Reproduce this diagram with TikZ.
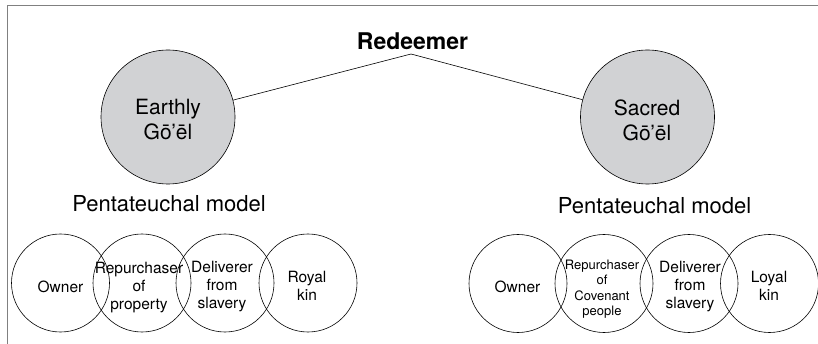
\documentclass[tikz,border=0pt]{standalone}
\usepackage{fontspec}
\setmainfont{TeX Gyre Heros}
\usepackage{tikz}
\definecolor{goelgray}{RGB}{209,210,212}

\begin{document}
\begin{tikzpicture}
[every node/.style={inner sep=0pt},
 big/.style={circle, minimum size=134pt, fill=goelgray, line width=0.6pt, draw=black},
 small/.style={circle, minimum size=98pt, line width=0.6pt, draw=black},
 lab/.style={align=center, font=\fontsize{15.5}{18}\selectfont},
 bigtext/.style={align=center, font=\fontsize{21}{25}\selectfont},
 model/.style={anchor=base, font=\fontsize{22}{24}\selectfont}]
\useasboundingbox (0pt, 0pt) rectangle (818pt, -344pt);
\draw [line width=0.9pt, color=black!50] (7pt, -344pt) -- (7pt, -5pt) -- (818pt, -5pt);
\node (red) [anchor=base, font=\bfseries\fontsize{23}{25}\selectfont] at (412.5pt, -50pt) {Redeemer};
\coordinate (apex) at (411pt, -54pt);
\node (earth) [big] at (168pt, -117pt) {};
\node (sacred) [big] at (647.5pt, -117pt) {};
\draw [line width=0.6pt, color=black] (earth) to (apex);
\draw [line width=0.6pt, color=black] (apex) to (sacred);
\node (earthtext) [bigtext] at (168pt, -120pt) {Earthly\\Gō’ēl};
\node (sacredtext) [bigtext] at (647pt, -120pt) {Sacred\\Gō’ēl};
\node (model1) [model] at (169pt, -212pt) {Pentateuchal model};
\node (model2) [model] at (654.5pt, -214pt) {Pentateuchal model};
% earthly model
\node (e1) [small] at (60.5pt, -283pt) {};
\node (e2) [small] at (142pt, -283pt) {};
\node (e3) [small] at (225pt, -283pt) {};
\node (e4) [small] at (308pt, -283pt) {};
\node (e1t) [lab] at (60.5pt, -287pt) {Owner};
\node (e2t) [lab] at (139pt, -288pt) {Repurchaser\\of\\property};
\node (e3t) [lab] at (222pt, -287pt) {Deliverer\\from\\slavery};
\node (e4t) [lab] at (307pt, -286pt) {Royal\\kin};
% sacred model
\node (s1) [small] at (518pt, -283.5pt) {};
\node (s2) [small] at (604pt, -283.5pt) {};
\node (s3) [small] at (689pt, -283.5pt) {};
\node (s4) [small] at (769.5pt, -283.5pt) {};
\node (s1t) [lab] at (517.5pt, -287pt) {Owner};
\node (s2t) [lab, font=\fontsize{13}{15.5}\selectfont] at (602pt, -289pt) {Repurchaser\\of\\Covenant\\people};
\node (s3t) [lab] at (690pt, -287pt) {Deliverer\\from\\slavery};
\node (s4t) [lab] at (769pt, -286pt) {Loyal\\kin};
\end{tikzpicture}
\end{document}
